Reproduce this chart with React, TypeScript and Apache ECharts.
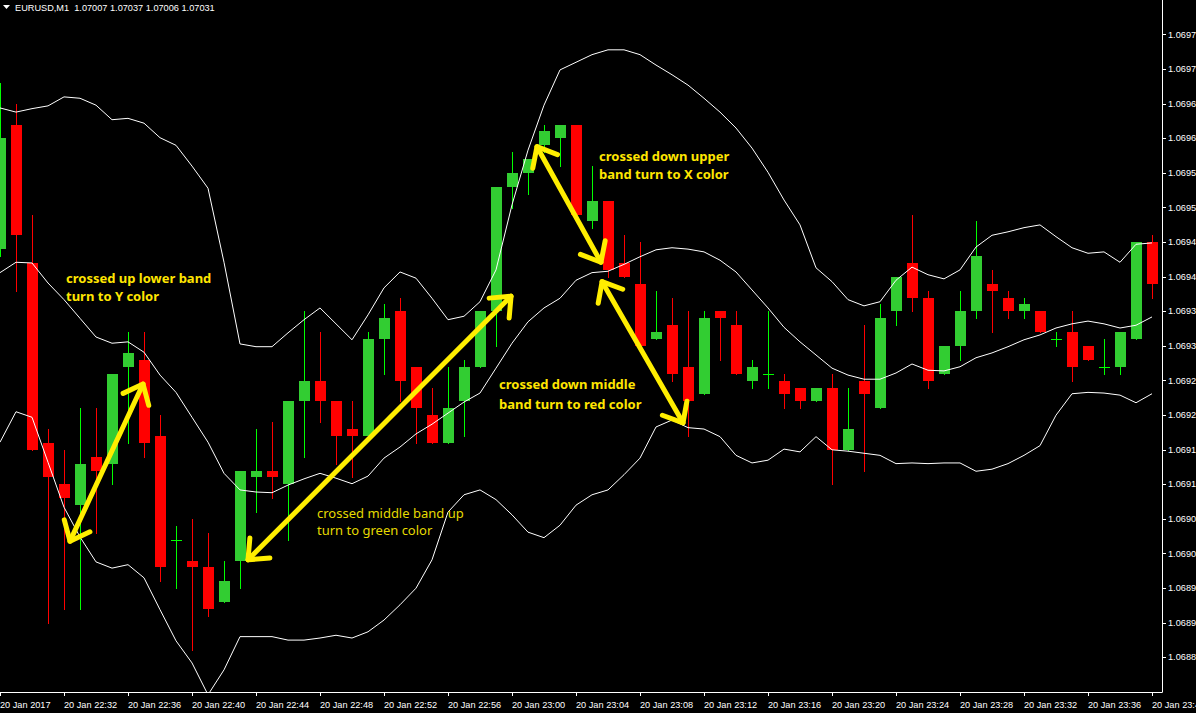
import React, { useEffect, useRef } from "react";
import * as echarts from "echarts";

// Time-axis tick labels (every 4 one-minute bars, first bar = 22:28)
const tickLabels = [
  "20 Jan 2017", "20 Jan 22:32", "20 Jan 22:36", "20 Jan 22:40", "20 Jan 22:44",
  "20 Jan 22:48", "20 Jan 22:52", "20 Jan 22:56", "20 Jan 23:00", "20 Jan 23:04",
  "20 Jan 23:08", "20 Jan 23:12", "20 Jan 23:16", "20 Jan 23:20", "20 Jan 23:24",
  "20 Jan 23:28", "20 Jan 23:32", "20 Jan 23:36", "20 Jan 23:40",
];

// EURUSD M1 bars, 22:28 .. 23:40
const open = [
  1.06944, 1.06962, 1.06942, 1.06916, 1.0691, 1.06907, 1.06914, 1.06913, 1.06927, 1.06928,
  1.06917, 1.06902, 1.06899, 1.06898, 1.06893, 1.06899, 1.06911, 1.06912, 1.0691, 1.06922,
  1.06925, 1.06922, 1.06918, 1.06917, 1.06931, 1.06935, 1.06927, 1.0692, 1.06916, 1.06922,
  1.06927, 1.06935, 1.06953, 1.06955, 1.06959, 1.0696, 1.06962, 1.06948, 1.06951, 1.06942,
  1.06939, 1.06931, 1.06933, 1.06927, 1.06923, 1.06935, 1.06933, 1.06925, 1.06926, 1.06925,
  1.06924, 1.06922, 1.06924, 1.06915, 1.06925, 1.06921, 1.06935, 1.06942, 1.06937, 1.06926,
  1.0693, 1.06935, 1.06939, 1.06937, 1.06935, 1.06935, 1.06931, 1.06932, 1.0693, 1.06927,
  1.06927, 1.06931, 1.06945,
];
const high = [
  1.06968, 1.06965, 1.06949, 1.06918, 1.06915, 1.06921, 1.06921, 1.06926, 1.06932, 1.06932,
  1.0692, 1.06904, 1.06905, 1.06903, 1.06899, 1.06912, 1.06918, 1.06919, 1.06922, 1.06935,
  1.06932, 1.06922, 1.06922, 1.06932, 1.06936, 1.06937, 1.06927, 1.06924, 1.06927, 1.06928,
  1.06935, 1.06953, 1.06958, 1.06957, 1.06962, 1.06962, 1.06962, 1.06956, 1.06951, 1.06946,
  1.06945, 1.06938, 1.06937, 1.06935, 1.06935, 1.06935, 1.06935, 1.06928, 1.06935, 1.06926,
  1.06924, 1.06924, 1.06926, 1.06924, 1.06933, 1.06936, 1.0694, 1.06949, 1.06938, 1.0693,
  1.06938, 1.06948, 1.06941, 1.06938, 1.06937, 1.06935, 1.06932, 1.06935, 1.0693, 1.06931,
  1.06932, 1.06945, 1.06946,
];
const low = [
  1.06943, 1.06938, 1.06915, 1.0689, 1.06892, 1.06892, 1.06903, 1.0691, 1.06916, 1.06914,
  1.06896, 1.06895, 1.06886, 1.06891, 1.06893, 1.06895, 1.06906, 1.06908, 1.06902, 1.06914,
  1.06919, 1.06913, 1.06911, 1.06917, 1.06926, 1.06922, 1.06916, 1.06916, 1.06916, 1.06917,
  1.06927, 1.0693, 1.0695, 1.06952, 1.06958, 1.06956, 1.06949, 1.06947, 1.0694, 1.0694,
  1.0693, 1.06931, 1.06925, 1.06917, 1.06923, 1.06928, 1.06926, 1.06924, 1.06924, 1.06921,
  1.06921, 1.06922, 1.0691, 1.06915, 1.06912, 1.06921, 1.06933, 1.06935, 1.06924, 1.06926,
  1.06928, 1.06934, 1.06932, 1.06934, 1.06934, 1.06932, 1.0693, 1.06925, 1.06928, 1.06926,
  1.06926, 1.06931, 1.06937,
];
const close = [
  1.0696, 1.06946, 1.06915, 1.06911, 1.06908, 1.06913, 1.06912, 1.06926, 1.06929, 1.06916,
  1.06898, 1.06902, 1.06898, 1.06892, 1.06896, 1.06912, 1.06912, 1.06911, 1.06922, 1.06925,
  1.06922, 1.06917, 1.06917, 1.06931, 1.06934, 1.06925, 1.06921, 1.06916, 1.06921, 1.06927,
  1.06935, 1.06953, 1.06955, 1.06957, 1.06961, 1.06962, 1.06949, 1.06951, 1.06941, 1.0694,
  1.0693, 1.06932, 1.06926, 1.06922, 1.06934, 1.06934, 1.06926, 1.06927, 1.06926, 1.06923,
  1.06922, 1.06924, 1.06915, 1.06918, 1.06923, 1.06934, 1.0694, 1.06937, 1.06925, 1.0693,
  1.06935, 1.06943, 1.06938, 1.06935, 1.06936, 1.06932, 1.06931, 1.06927, 1.06928, 1.06927,
  1.06932, 1.06945, 1.06939,
];

// Bollinger bands
const upperBand = [
  1.069644, 1.069638, 1.069643, 1.069647, 1.06966, 1.069658, 1.069648, 1.069627, 1.069629, 1.069622,
  1.069601, 1.06959, 1.06956, 1.069528, 1.069421, 1.069303, 1.069299, 1.069299, 1.069319, 1.069338,
  1.069355, 1.069332, 1.069309, 1.069345, 1.069384, 1.069407, 1.069398, 1.069369, 1.069338, 1.069343,
  1.069364, 1.06941, 1.069504, 1.069583, 1.069648, 1.069699, 1.06971, 1.069721, 1.069728, 1.069728,
  1.069721, 1.069706, 1.069692, 1.069677, 1.069658, 1.069638, 1.069615, 1.069586, 1.069551, 1.069511,
  1.069475, 1.069413, 1.069393, 1.069367, 1.069358, 1.069364, 1.069395, 1.069414, 1.069403, 1.069397,
  1.06941, 1.069443, 1.06946, 1.069465, 1.069471, 1.069475, 1.069458, 1.069442, 1.069434, 1.069436,
  1.069421, 1.069447, 1.069449,
];
const middleBand = [
  1.069406, 1.069421, 1.06942, 1.069391, 1.069367, 1.06934, 1.069313, 1.069304, 1.069306, 1.069291,
  1.069258, 1.069233, 1.069197, 1.069161, 1.069116, 1.069092, 1.069089, 1.069088, 1.069099, 1.069108,
  1.069116, 1.069109, 1.069101, 1.069112, 1.069138, 1.069154, 1.069173, 1.069187, 1.069203, 1.069219,
  1.069232, 1.069268, 1.069304, 1.069335, 1.069355, 1.069369, 1.069395, 1.069406, 1.069408, 1.069418,
  1.069429, 1.069439, 1.069442, 1.06944, 1.069436, 1.069424, 1.069407, 1.069381, 1.069355, 1.069327,
  1.069306, 1.069287, 1.069268, 1.069258, 1.069252, 1.069252, 1.069261, 1.069274, 1.069265, 1.069264,
  1.06927, 1.069283, 1.06929, 1.069299, 1.069309, 1.069316, 1.069326, 1.069332, 1.069336, 1.069332,
  1.069326, 1.06933, 1.069342,
];
const lowerBand = [
  1.069161, 1.069205, 1.069197, 1.069132, 1.069067, 1.069024, 1.068988, 1.068979, 1.068984, 1.068965,
  1.068919, 1.068874, 1.068842, 1.068796, 1.068832, 1.06888, 1.06888, 1.06888, 1.068875, 1.068875,
  1.068878, 1.068882, 1.068878, 1.068887, 1.068904, 1.068926, 1.06895, 1.068991, 1.06906, 1.069085,
  1.069092, 1.069078, 1.069056, 1.069031, 1.069023, 1.069041, 1.06907, 1.069085, 1.069092, 1.069114,
  1.069138, 1.069183, 1.069193, 1.069182, 1.06918, 1.069169, 1.069142, 1.069131, 1.069135, 1.069151,
  1.069147, 1.069169, 1.06915, 1.069148, 1.069145, 1.069142, 1.06913, 1.069131, 1.06913, 1.069131,
  1.069131, 1.069119, 1.069122, 1.06913, 1.069142, 1.069156, 1.0692, 1.069231, 1.069233, 1.069232,
  1.069229, 1.069218, 1.069231,
];

// Annotation arrows: [barFrom, priceFrom, barTo, priceTo]
const arrows = [
  [4.375, 1.069018, 8.94, 1.069245],
  [15.5, 1.068991, 31.94, 1.069372],
  [33.56, 1.069588, 37.56, 1.069421],
  [37.63, 1.069393, 42.69, 1.069189],
];

const title = "EURUSD,M1  1.07007 1.07037 1.07006 1.07031";

export default function App() {
  const ref = useRef<HTMLDivElement>(null);

  useEffect(() => {
    if (!ref.current) return;
    const chart = echarts.init(ref.current, undefined, { renderer: "svg" });

    const candleData = open.map((o, i) => [i, o, close[i], low[i], high[i]]);
    const lineStyle = { color: "#ffffff", width: 1 };
    const axisFont = { fontFamily: "Liberation Sans", fontSize: 9.2, color: "#ffffff" };

    const annFont = "bold 13px 'Noto Sans'";
    const annFontN = "13px 'Noto Sans'";
    const annColor = "#FFE600";

    chart.setOption({
      animation: false,
      backgroundColor: "#000000",
      grid: {
        left: 0,
        top: 0,
        width: 1162,
        height: 692,
        containLabel: false,
        outerBoundsMode: "none",
      },
      xAxis: {
        type: "value",
        min: 0,
        max: 72.625,
        interval: 4,
        axisLine: { show: true, onZero: false, lineStyle: { color: "#ffffff", width: 1 } },
        axisTick: { show: true, length: 4, lineStyle: { color: "#ffffff" } },
        splitLine: { show: false },
        axisLabel: {
          ...axisFont,
          align: "left",
          margin: 8,
          lineHeight: 10,
          showMaxLabel: false,
          formatter: (v: number) => {
            const k = Math.round(v / 4);
            if (Math.abs(v - k * 4) > 1e-6) return "";
            return tickLabels[k] ?? "";
          },
        },
      },
      yAxis: {
        type: "value",
        position: "right",
        min: 1.0688,
        max: 1.0698,
        interval: 0.00005,
        axisLine: { show: true, onZero: false, lineStyle: { color: "#ffffff", width: 1 } },
        axisTick: { show: true, length: 4, lineStyle: { color: "#ffffff" } },
        splitLine: { show: false },
        axisLabel: {
          ...axisFont,
          margin: 6,
          showMinLabel: false,
          showMaxLabel: false,
          formatter: (v: number) => v.toFixed(5),
        },
      },
      series: [
        {
          type: "custom",
          name: "EURUSD",
          clip: true,
          z: 2,
          data: candleData,
          encode: { x: 0, y: [1, 2, 3, 4] },
          renderItem: (params: any, api: any) => {
            const i = api.value(0);
            const o = api.value(1);
            const c = api.value(2);
            const l = api.value(3);
            const h = api.value(4);
            const pO = api.coord([i, o]);
            const cx = Math.round(pO[0]);
            const yo = Math.round(pO[1]);
            const yc = Math.round(api.coord([i, c])[1]);
            const yl = Math.round(api.coord([i, l])[1]);
            const yh = Math.round(api.coord([i, h])[1]);
            const up = c >= o;
            const bodyColor = up ? "#32CD32" : "#FF0000";
            const wickColor = up ? "#00FF00" : "#FF0000";
            const children: any[] = [
              {
                type: "line",
                shape: { x1: cx + 0.5, y1: yh, x2: cx + 0.5, y2: yl + 1 },
                style: { stroke: wickColor, lineWidth: 1 },
              },
            ];
            if (o === c) {
              children.push({
                type: "line",
                shape: { x1: cx - 5, y1: yo + 0.5, x2: cx + 6, y2: yo + 0.5 },
                style: { stroke: wickColor, lineWidth: 1 },
              });
            } else {
              children.push({
                type: "rect",
                shape: { x: cx - 5, y: Math.min(yo, yc), width: 11, height: Math.abs(yo - yc) },
                style: { fill: bodyColor },
              });
            }
            return { type: "group", children };
          },
        },
        {
          type: "line",
          name: "Upper band",
          z: 3,
          symbol: "none",
          lineStyle,
          data: upperBand.map((v, i) => [i, v]),
        },
        {
          type: "line",
          name: "Middle band",
          z: 3,
          symbol: "none",
          lineStyle,
          data: middleBand.map((v, i) => [i, v]),
        },
        {
          type: "line",
          name: "Lower band",
          z: 3,
          symbol: "none",
          lineStyle,
          data: lowerBand.map((v, i) => [i, v]),
        },
        {
          type: "custom",
          name: "Annotations",
          z: 5,
          clip: false,
          data: arrows,
          encode: { x: [0, 2], y: [1, 3] },
          renderItem: (params: any, api: any) => {
            const p1 = api.coord([api.value(0), api.value(1)]);
            const p2 = api.coord([api.value(2), api.value(3)]);
            const head = (tip: number[], from: number[]) => {
              const dx = from[0] - tip[0];
              const dy = from[1] - tip[1];
              const len = Math.hypot(dx, dy);
              const ux = dx / len;
              const uy = dy / len;
              const a = (40 * Math.PI) / 180;
              const L = 22;
              const r1 = [ux * Math.cos(a) - uy * Math.sin(a), ux * Math.sin(a) + uy * Math.cos(a)];
              const r2 = [ux * Math.cos(-a) - uy * Math.sin(-a), ux * Math.sin(-a) + uy * Math.cos(-a)];
              return [
                [tip[0] + r1[0] * L, tip[1] + r1[1] * L],
                [tip[0], tip[1]],
                [tip[0] + r2[0] * L, tip[1] + r2[1] * L],
              ];
            };
            const st = { stroke: "#FFEE00", lineWidth: 5, lineCap: "round", lineJoin: "round", fill: null };
            return {
              type: "group",
              children: [
                { type: "line", shape: { x1: p1[0], y1: p1[1], x2: p2[0], y2: p2[1] }, style: st },
                { type: "polyline", shape: { points: head(p1, p2) }, style: st },
                { type: "polyline", shape: { points: head(p2, p1) }, style: st },
              ],
            };
          },
        },
      ],
      graphic: [
        {
          type: "polygon",
          shape: { points: [[3, 5], [10, 5], [6.5, 9]] },
          style: { fill: "#ffffff" },
        },
        {
          type: "text",
          x: 15,
          y: 7.8,
          style: { text: title, fill: "#ffffff", font: "9.2px 'Liberation Sans'", verticalAlign: "middle" },
        },
        {
          type: "text",
          x: 66,
          y: 268.5,
          z: 10,
          style: {
            text: "crossed up lower band\nturn to Y color",
            fill: annColor,
            font: annFont,
            lineHeight: 18,
            verticalAlign: "top",
          },
        },
        {
          type: "text",
          x: 317,
          y: 504.5,
          z: 10,
          style: {
            text: "crossed middle band up\nturn to green color",
            fill: "#E6DA00",
            font: annFontN,
            lineHeight: 17,
            verticalAlign: "top",
          },
        },
        {
          type: "text",
          x: 599,
          y: 147,
          z: 10,
          style: {
            text: "crossed down upper\nband turn to X color",
            fill: annColor,
            font: annFont,
            lineHeight: 18,
            verticalAlign: "top",
          },
        },
        {
          type: "text",
          x: 499,
          y: 374,
          z: 10,
          style: {
            text: "crossed down middle\nband turn to red color",
            fill: annColor,
            font: annFont,
            lineHeight: 20,
            verticalAlign: "top",
          },
        },
      ],
    });

    return () => chart.dispose();
  }, []);

  return (
    <div
      style={{
        position: "fixed",
        left: 0,
        top: 0,
        width: 1196,
        height: 713,
        overflow: "hidden",
        background: "#000000",
      }}
    >
      <div ref={ref} style={{ width: 1196, height: 713 }} />
    </div>
  );
}
